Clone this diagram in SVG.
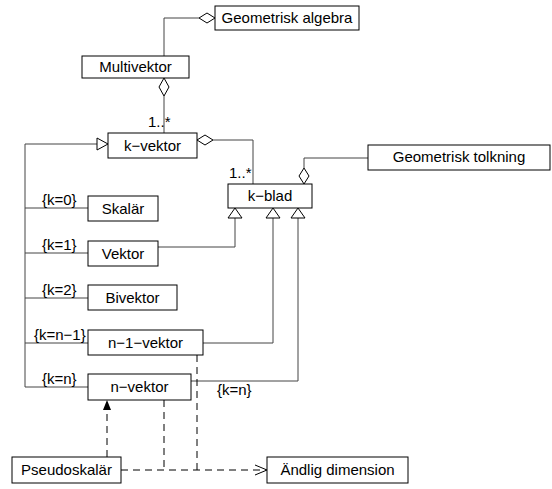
<svg xmlns="http://www.w3.org/2000/svg" width="552" height="489" viewBox="0 0 552 489">
<style>
.box{fill:#fff;stroke:#000;stroke-width:1}
.t{font-family:"Liberation Sans",Arial,sans-serif;font-size:15px;fill:#000;text-anchor:middle}
.l{font-family:"Liberation Sans",Arial,sans-serif;font-size:15px;fill:#000}
.c{fill:none;stroke:#444;stroke-width:1}
.d{fill:none;stroke:#000;stroke-width:1;stroke-dasharray:7,5}
.dia{fill:#fff;stroke:#000;stroke-width:1}
.tri{fill:#fff;stroke:#000;stroke-width:1}
</style>
<rect width="552" height="489" fill="#fff"/>
<g id="connectors">
<path class="c" d="M164,56 V18 H199"/>
<polygon class="dia" points="199,18 207,13 215,18 207,23"/>
<path class="c" d="M164,96 V133"/>
<polygon class="dia" points="164,78 169,87 164,96 159,87"/>
<path class="c" d="M213,140 H253 V184"/>
<polygon class="dia" points="197,140 205,135 213,140 205,145"/>
<path class="c" d="M304,168 V158 H368"/>
<polygon class="dia" points="304,184 299,176 304,168 309,176"/>
<path class="c" d="M25,144 V387 M25,144 H97 M25,208 H88 M25,253 H88 M25,298 H88 M25,343 H88 M25,387 H88"/>
<polygon class="tri" points="108,144 97,138 97,150"/>
<path class="c" d="M158,247 H235 V218"/>
<path class="c" d="M203,343 H273 V218"/>
<path class="c" d="M191,381 H298 V218"/>
<polygon class="tri" points="235,208 228,218 242,218"/>
<polygon class="tri" points="273,208 266,218 280,218"/>
<polygon class="tri" points="298,208 291,218 305,218"/>
<path class="d" d="M107,457 V410"/>
<polygon points="107,400 103,410 111,410" fill="#000"/>
<path class="d" d="M164,400 V470"/>
<path class="d" d="M197,355 V470"/>
<path class="d" d="M121,470 H266"/>
<path d="M255,465 L267,470 L255,475" fill="none" stroke="#000"/>
<text class="l" x="148" y="127">1..*</text>
<text class="l" x="229" y="178">1..*</text>
<text class="l" x="42" y="205">{k=0}</text>
<text class="l" x="42" y="250">{k=1}</text>
<text class="l" x="42" y="295">{k=2}</text>
<text class="l" x="34" y="340">{k=n−1}</text>
<text class="l" x="42" y="384">{k=n}</text>
<text class="l" x="217" y="395">{k=n}</text>
</g>
<g id="geometrisk-algebra"><rect class="box" x="215" y="6" width="144" height="24"/><text class="t" x="287" y="23">Geometrisk algebra</text></g>
<g id="multivektor"><rect class="box" x="82" y="56" width="107" height="22"/><text class="t" x="135.5" y="72">Multivektor</text></g>
<g id="k-vektor"><rect class="box" x="108" y="133" width="89" height="25"/><text class="t" x="152.5" y="151">k−vektor</text></g>
<g id="k-blad"><rect class="box" x="228" y="184" width="84" height="24"/><text class="t" x="270" y="201">k−blad</text></g>
<g id="geometrisk-tolkning"><rect class="box" x="368" y="145" width="182" height="25"/><text class="t" x="459" y="162">Geometrisk tolkning</text></g>
<g id="skalar"><rect class="box" x="88" y="196" width="70" height="25"/><text class="t" x="123" y="214">Skalär</text></g>
<g id="vektor"><rect class="box" x="88" y="241" width="70" height="25"/><text class="t" x="123" y="259">Vektor</text></g>
<g id="bivektor"><rect class="box" x="88" y="285" width="89" height="25"/><text class="t" x="132.5" y="303">Bivektor</text></g>
<g id="n-1-vektor"><rect class="box" x="88" y="330" width="115" height="25"/><text class="t" x="145.5" y="348">n−1−vektor</text></g>
<g id="n-vektor"><rect class="box" x="88" y="374" width="103" height="26"/><text class="t" x="139.5" y="392">n−vektor</text></g>
<g id="pseudoskalar"><rect class="box" x="12" y="457" width="109" height="26"/><text class="t" x="66.5" y="475">Pseudoskalär</text></g>
<g id="andlig-dimension"><rect class="box" x="267" y="457" width="141" height="26"/><text class="t" x="337.5" y="475">Ändlig dimension</text></g>
</svg>
